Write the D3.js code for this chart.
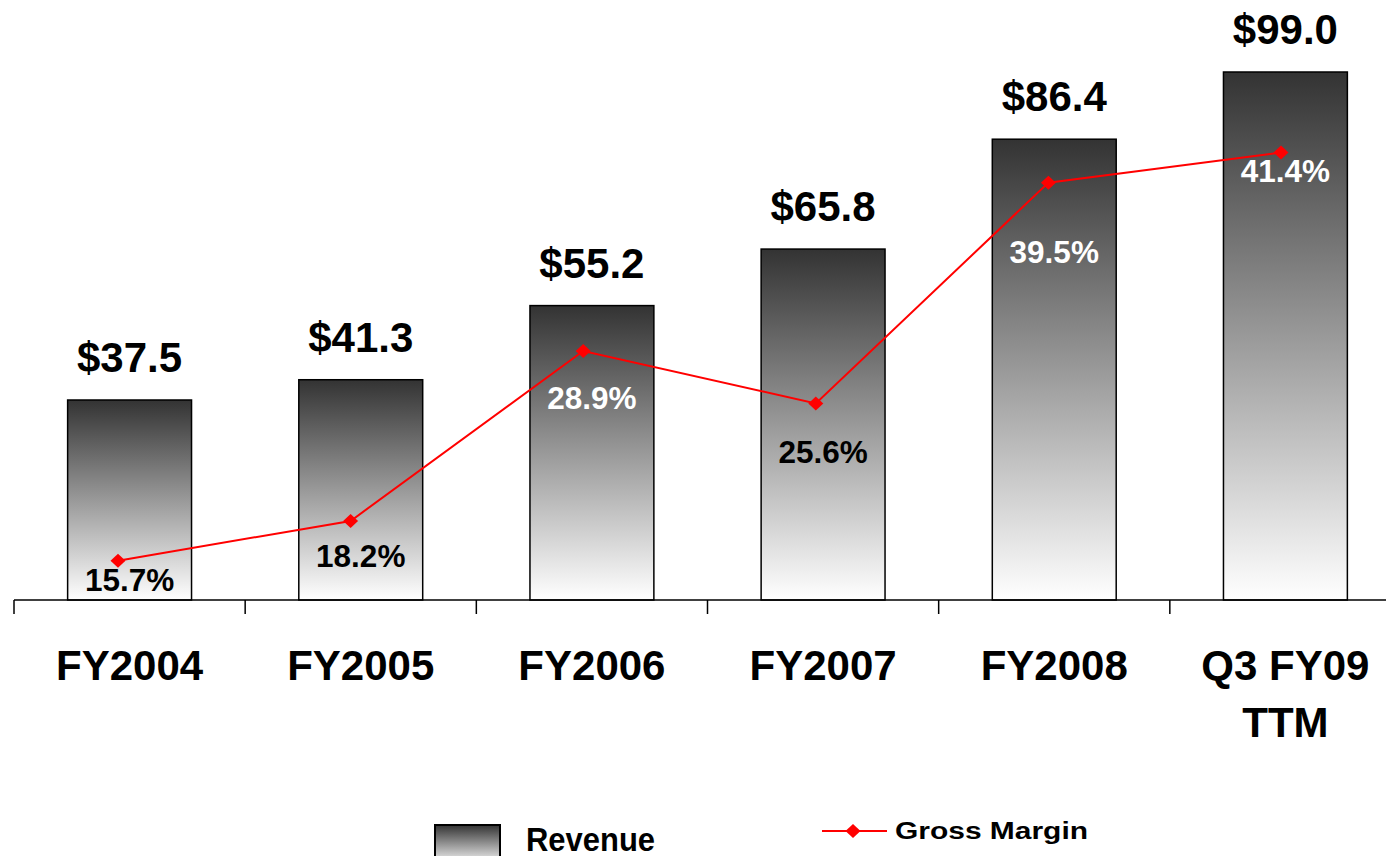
<!DOCTYPE html>
<html>
<head>
<meta charset="utf-8">
<script src="https://cdn.jsdelivr.net/npm/d3@7"></script>
<style>
    html, body { margin: 0; padding: 0; background: #fff; }
    svg { display: block; font-family: "Liberation Sans", Arial, sans-serif; font-weight: bold; }
</style>
</head>
<body>
<svg id="chart" width="1386" height="856"></svg>
<script>
// chart data
const categories = ['FY2004', 'FY2005', 'FY2006', 'FY2007', 'FY2008', 'Q3 FY09\nTTM'];
const revenue = [37.5, 41.3, 55.2, 65.8, 86.4, 99.0];
const gross_margin = [15.7, 18.2, 28.9, 25.6, 39.5, 41.4];

// how far each margin label sits below its point (px)
const margin_label_dy = [30, 46, 58, 60, 80, 30];

const svg = d3.select('#chart');

const x = d3.scaleBand()
    .domain(categories)
    .range([14, 1401])
    .paddingInner(0.464)
    .paddingOuter(0.232);

// the line series sits slightly left of the bars in the original
const x_line = d3.scalePoint()
    .domain(categories)
    .range([118, 1281]);

const y = d3.scaleLinear().domain([0, 112.5]).range([600, 0]);
const y2 = d3.scaleLinear().domain([0, 51]).range([810, 0]);

// gradient for the bars
const defs = svg.append('defs');
const grad = defs.append('linearGradient')
    .attr('id', 'bar-grad')
    .attr('x1', 0).attr('y1', 0).attr('x2', 0).attr('y2', 1);
grad.append('stop').attr('offset', '0%').attr('stop-color', '#333333');
grad.append('stop').attr('offset', '100%').attr('stop-color', '#ffffff');

const bars = svg.append('g');

bars.selectAll('rect')
    .data(revenue)
    .join('rect')
    .attr('x', (d, i) => x(categories[i]))
    .attr('y', d => y(d))
    .attr('width', x.bandwidth())
    .attr('height', d => y(0) - y(d))
    .attr('fill', 'url(#bar-grad)')
    .attr('stroke', '#000')
    .attr('stroke-width', 1.5);

bars.selectAll('text')
    .data(revenue)
    .join('text')
    .attr('x', (d, i) => x(categories[i]) + x.bandwidth() / 2)
    .attr('y', d => y(d) - 28)
    .attr('text-anchor', 'middle')
    .attr('font-size', '42px')
    .attr('fill', '#000')
    .text(d => '$' + d.toFixed(1));

// x axis: baseline with ticks between categories
const axis_g = svg.append('g');
axis_g.append('line')
    .attr('x1', 14).attr('x2', 1401)
    .attr('y1', y(0)).attr('y2', y(0))
    .attr('stroke', '#000').attr('stroke-width', 1.5);

const step = x.step();
axis_g.selectAll('line.tick')
    .data(d3.range(categories.length + 1))
    .join('line')
    .attr('class', 'tick')
    .attr('x1', i => 14 + i * step).attr('x2', i => 14 + i * step)
    .attr('y1', y(0)).attr('y2', y(0) + 14)
    .attr('stroke', '#000').attr('stroke-width', 1.5);

const cat_labels = axis_g.selectAll('text')
    .data(categories)
    .join('text')
    .attr('x', d => x(d) + x.bandwidth() / 2)
    .attr('y', 680)
    .attr('text-anchor', 'middle')
    .attr('font-size', '42px')
    .attr('fill', '#000');

cat_labels.each(function (d) {
    const lines = d.split('\n');
    const cx = x(d) + x.bandwidth() / 2;
    d3.select(this).selectAll('tspan')
        .data(lines)
        .join('tspan')
        .attr('x', cx)
        .attr('dy', (l, i) => i === 0 ? 0 : 57)
        .text(l => l);
});

// gross margin line
const diamond = 'M0,-7L7.5,0L0,7L-7.5,0Z';

const line = d3.line()
    .x((d, i) => x_line(categories[i]))
    .y(d => y2(d));

svg.append('path')
    .datum(gross_margin)
    .attr('d', line)
    .attr('fill', 'none')
    .attr('stroke', '#ff0000')
    .attr('stroke-width', 2);

svg.append('g')
    .selectAll('path')
    .data(gross_margin)
    .join('path')
    .attr('d', diamond)
    .attr('transform', (d, i) => 'translate(' + x_line(categories[i]) + ',' + y2(d) + ')')
    .attr('fill', '#ff0000');

// labels are white where they sit on the dark part of the bar
function label_fill(d, i) {
    const top = y(revenue[i]);
    const label_mid = y2(d) + margin_label_dy[i] - 11;
    const t = (label_mid - top) / (y(0) - top);
    return t < 0.45 ? '#fff' : '#000';
}

svg.append('g')
    .selectAll('text')
    .data(gross_margin)
    .join('text')
    .attr('x', (d, i) => x(categories[i]) + x.bandwidth() / 2)
    .attr('y', (d, i) => y2(d) + margin_label_dy[i])
    .attr('text-anchor', 'middle')
    .attr('font-size', '31.5px')
    .attr('fill', label_fill)
    .text(d => d.toFixed(1) + '%');

// legend
const legend = svg.append('g');
legend.append('rect')
    .attr('x', 435).attr('y', 825)
    .attr('width', 65).attr('height', 40)
    .attr('fill', 'url(#bar-grad)')
    .attr('stroke', '#000').attr('stroke-width', 2);
legend.append('text')
    .attr('x', 526).attr('y', 851)
    .attr('font-size', '33px')
    .attr('textLength', 129)
    .attr('lengthAdjust', 'spacingAndGlyphs')
    .text('Revenue');

legend.append('line')
    .attr('x1', 822).attr('x2', 887)
    .attr('y1', 831).attr('y2', 831)
    .attr('stroke', '#ff0000').attr('stroke-width', 2);
legend.append('path')
    .attr('d', diamond)
    .attr('transform', 'translate(853,831)')
    .attr('fill', '#ff0000');
legend.append('text')
    .attr('x', 895).attr('y', 839)
    .attr('font-size', '23px')
    .attr('textLength', 193)
    .attr('lengthAdjust', 'spacingAndGlyphs')
    .text('Gross Margin');
</script>
</body>
</html>
